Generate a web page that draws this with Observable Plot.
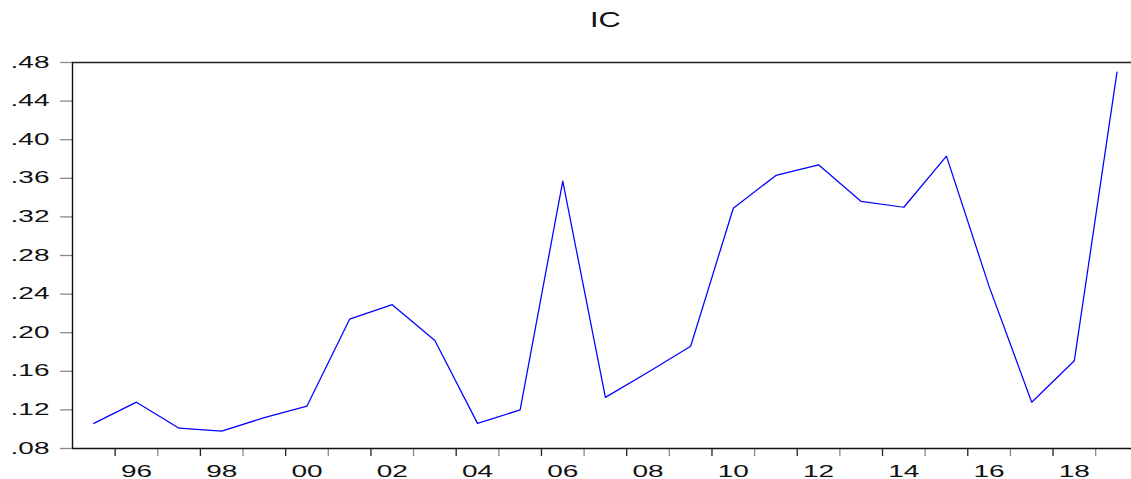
<!DOCTYPE html>
<html>
<head>
<meta charset="utf-8">
<script src="https://cdn.jsdelivr.net/npm/d3@7"></script>
<script src="https://cdn.jsdelivr.net/npm/@observablehq/plot@0.6"></script>
<style>
  html, body { margin: 0; padding: 0; background: #fff; overflow: hidden; }
  #chart { width: 1131px; height: 479px; }
</style>
</head>
<body>
<div id="chart"></div>
<script>
const title = "IC";
const years = [1995, 1996, 1997, 1998, 1999, 2000, 2001, 2002, 2003, 2004, 2005, 2006,
               2007, 2008, 2009, 2010, 2011, 2012, 2013, 2014, 2015, 2016, 2017, 2018, 2019];
const icValues = [0.106, 0.128, 0.101, 0.098, 0.112, 0.124, 0.214, 0.229, 0.192, 0.106, 0.120, 0.357,
                  0.133, 0.159, 0.186, 0.329, 0.363, 0.374, 0.336, 0.330, 0.383, 0.248, 0.128, 0.171, 0.470];
const yTicks = [0.08, 0.12, 0.16, 0.20, 0.24, 0.28, 0.32, 0.36, 0.40, 0.44, 0.48];
const xLabelYears = [1996, 1998, 2000, 2002, 2004, 2006, 2008, 2010, 2012, 2014, 2016, 2018];

const data = years.map((year, i) => ({year, value: icValues[i]}));
const boundaries = years.slice(0, -1).map(y => y + 0.5);
const darkBounds = boundaries.filter(b => Math.floor(b) % 2 === 1);
const lightBounds = boundaries.filter(b => Math.floor(b) % 2 === 0);
const xDomain = [years[0] - 0.5, years[years.length - 1] + 0.5];
const yDomain = [yTicks[0], yTicks[yTicks.length - 1]];
const font = "'Liberation Sans', Arial, sans-serif";

const chart = Plot.plot({
  width: 1131,
  height: 479,
  marginLeft: 72,
  marginTop: 62,
  marginBottom: 31,
  marginRight: 0,
  style: {fontFamily: font, background: "#fff", overflow: "hidden"},
  x: {domain: xDomain, range: [72, 1137.8], axis: null},
  y: {domain: yDomain, axis: null},
  marks: [
    Plot.axisY({ticks: yTicks, tickSize: 12, tickPadding: 11, stroke: "#8a8a8a", strokeWidth: 1.3,
                fill: "#111", fontSize: 16, label: null,
                tickFormat: d => d3.format(".2f")(d).replace(/^0/, "")}),
    Plot.axisX({ticks: darkBounds, tickSize: 8, stroke: "#222", strokeWidth: 1.3, text: null, label: null}),
    Plot.axisX({ticks: lightBounds, tickSize: 8, stroke: "#8a8a8a", strokeWidth: 1.3, text: null, label: null}),
    Plot.axisX({ticks: xLabelYears, tickSize: 0, tickPadding: 17, fill: "#111", fontSize: 16, label: null,
                tickFormat: d => String(d % 100).padStart(2, "0")}),
    Plot.ruleX([xDomain[0]], {y1: yDomain[0], y2: yDomain[1], stroke: "#111", strokeWidth: 1.4}),
    Plot.ruleY([yDomain[1]], {stroke: "#222", strokeWidth: 1.4}),
    Plot.ruleY([yDomain[0]], {stroke: "#111", strokeWidth: 1.4}),
    Plot.line(data, {x: "year", y: "value", stroke: "#0000ff", strokeWidth: 1.25}),
    Plot.text([title], {x: d3.mean(xDomain), frameAnchor: "top", dy: -43, lineAnchor: "middle",
                        fontSize: 22, fill: "#111", className: "chart-title"})
  ]
});

function stretch(sel, s) {
  d3.select(chart).selectAll(sel).each(function() {
    const el = d3.select(this);
    const t = el.attr("transform");
    if (t) {
      el.attr("transform", t + ` scale(${s},1)`);
    } else {
      const x = +el.attr("x") || 0, y = +el.attr("y") || 0;
      el.attr("x", null).attr("y", null).attr("transform", `translate(${x},${y}) scale(${s},1)`);
    }
  });
}
stretch('g[aria-label="y-axis tick label"] text', 1.75);
stretch('g[aria-label="x-axis tick label"] text', 1.75);
stretch('g[aria-label="text"] text', 1.4);

document.getElementById("chart").appendChild(chart);
</script>
</body>
</html>
